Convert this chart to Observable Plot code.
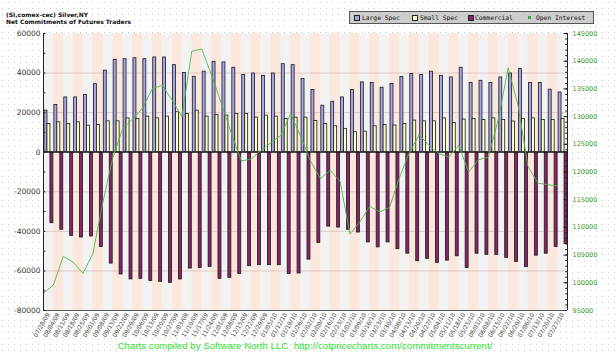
<!DOCTYPE html>
<html><head><meta charset="utf-8">
<script src="https://cdn.jsdelivr.net/npm/d3@7"></script>
<script src="https://cdn.jsdelivr.net/npm/@observablehq/plot@0.6"></script>
<style>
html,body{margin:0;padding:0;background:#fff;}
#wrap{position:relative;width:616px;height:354px;overflow:hidden;
 background-image:url("data:image/svg+xml;utf8,<svg xmlns='http://www.w3.org/2000/svg' width='6' height='6'><rect x='2' y='2' width='1' height='1' fill='%23c8c8c8'/></svg>");}
#chart{position:absolute;left:0;top:0;}
.title{position:absolute;left:6px;font:bold 6px "DejaVu Sans",sans-serif;color:#111;white-space:nowrap;line-height:7px;}
#legend{position:absolute;left:349px;top:11px;width:243px;height:11px;border:1px solid #555;background:#cdcdcd;
 font:6.3px "DejaVu Sans Mono",monospace;color:#111;}
#legend span{position:absolute;top:2px;white-space:nowrap;line-height:7px;}
#legend i{position:absolute;top:3px;width:4px;height:4px;border:1px solid #222;}
#footer{position:absolute;left:0;width:610px;top:340px;text-align:center;font:9.7px "Liberation Sans",Arial,sans-serif;color:#2ee02e;white-space:nowrap;}
</style></head>
<body>
<div id="wrap">
 <div id="chart"></div>
 <div class="title" style="top:11px">(SI,comex-cec) Silver,NY</div>
 <div class="title" style="top:18px">Net Commitments of Futures Traders</div>
 <div id="legend">
  <i style="left:4px;background:#a6a6e6"></i><span style="left:12px">Large Spec</span>
  <i style="left:62px;background:#ffffc8"></i><span style="left:70px">Small Spec</span>
  <i style="left:118px;background:#8a2468"></i><span style="left:125px">Commercial</span>
  <i style="left:178px;top:4px;width:1px;height:1px;border:1px solid #3aaa3a;background:#3aaa3a"></i><span style="left:186px">Open Interest</span>
 </div>
 <div id="footer">Charts compiled by Software North LLC&nbsp; http://cotpricecharts.com/commitmentscurrent/</div>
</div>
<script>
const weeks = ["07/28/09","08/04/09","08/11/09","08/18/09","08/25/09","09/01/09","09/08/09","09/15/09","09/22/09","09/29/09",
 "10/06/09","10/13/09","10/20/09","10/27/09","11/03/09","11/10/09","11/17/09","11/24/09","12/01/09","12/08/09",
 "12/15/09","12/22/09","12/29/09","01/05/10","01/12/10","01/19/10","01/26/10","02/02/10","02/09/10","02/16/10",
 "02/23/10","03/02/10","03/09/10","03/16/10","03/23/10","03/30/10","04/06/10","04/13/10","04/20/10","04/27/10",
 "05/04/10","05/11/10","05/18/10","05/25/10","06/01/10","06/08/10","06/15/10","06/22/10","06/29/10","07/06/10",
 "07/13/10","07/20/10","07/27/10"];
const largeSpec = [21000,23900,27700,27700,28900,34400,41200,46700,47000,47500,
 47000,47900,47900,44000,40000,38100,40700,45700,45400,42700,
 39000,39800,38600,39800,44500,44000,37000,31400,23500,25500,
 27700,31400,35300,35000,32600,34500,38000,39500,39100,40700,
 38600,37800,42700,35000,36100,35000,37800,39800,42000,35000,
 35000,31600,30200];
const smallSpec = [14300,15100,14300,15100,13400,13800,15600,15600,17100,16800,
 18000,17100,18000,20200,19300,21000,18000,18800,18500,19300,
 19300,17500,18500,18000,16800,17500,17500,15800,14300,13100,
 11800,10100,10400,13100,13800,13500,14300,16000,15600,15600,
 17100,14800,16500,16800,16300,17100,16300,15500,16800,17100,
 16300,16300,16800];
const commercial = [-35900,-39200,-42300,-43100,-42600,-47900,-56300,-61800,-64300,-64000,
 -65100,-65500,-66000,-64300,-58800,-58500,-58000,-64000,-63500,-61500,
 -57600,-57100,-57100,-57100,-61500,-61300,-54300,-45900,-37600,-38100,
 -39200,-40600,-45600,-48100,-45600,-49000,-51300,-55100,-53900,-55900,
 -54800,-52600,-58500,-51300,-51900,-51900,-53400,-55400,-58100,-52300,
 -51300,-47900,-46400];
const openInterest = [98100,99600,104800,103700,101700,105300,114500,122500,127800,129500,
 131500,135000,135700,133000,130000,141800,142200,137500,132300,127000,
 122000,122300,123900,125300,126600,130500,126500,122000,118800,120300,
 118300,108800,111000,113800,112800,113600,119000,123500,126700,124800,
 123300,122700,124800,120000,122200,122700,129500,138800,132000,121000,
 118000,117700,117500];
const leftTicks = [-80000,-60000,-40000,-20000,0,20000,40000,60000];
const rightTicks = [95000,100000,105000,110000,115000,120000,125000,130000,135000,140000,145000];

const yMin = -80000, yMax = 60000, oiMin = 95000, oiMax = 145000;
const oiToY = v => yMin + (v - oiMin) * (yMax - yMin) / (oiMax - oiMin);
const yToOi = v => oiMin + (v - yMin) * (oiMax - oiMin) / (yMax - yMin);

const rows = weeks.map((w, i) => ({i, week: w, ls: largeSpec[i], ss: smallSpec[i], cm: commercial[i], oi: oiToY(openInterest[i])}));
const stripes = rows.filter(d => d.i % 2 === 1);
const n = weeks.length;
const leftMinor = d3.range(yMin, yMax + 1, 10000);
const rightMinor = d3.range(oiMin, oiMax + 1, 1000).map(oiToY);

const chart = Plot.plot({
  width: 616, height: 354,
  marginLeft: 43, marginRight: 49, marginTop: 33, marginBottom: 44,
  x: {domain: [0, n], axis: null},
  y: {domain: [yMin, yMax], axis: null},
  style: {fontFamily: '"DejaVu Sans", sans-serif', background: "transparent", overflow: "visible"},
  marks: [
    Plot.frame({fill: "#f2f2f2", stroke: null}),
    Plot.rect(stripes, {x1: d => d.i, x2: d => d.i + 1, y1: yMin, y2: yMax, fill: "#fce7dc"}),
    Plot.gridY({ticks: leftTicks.filter(t => t > yMin && t < yMax && t !== 0), stroke: "#c8a8a8", strokeOpacity: 0.5}),
    Plot.rect(rows, {x1: d => d.i + 0.1, x2: d => d.i + 0.4, y1: 0, y2: "ls", fill: "#a6a6e6", stroke: "#1a1a1a", strokeWidth: 0.8}),
    Plot.rect(rows, {x1: d => d.i + 0.4, x2: d => d.i + 0.7, y1: 0, y2: "ss", fill: "#ffffc8", stroke: "#1a1a1a", strokeWidth: 0.8}),
    Plot.rect(rows, {x1: d => d.i + 0.7, x2: d => d.i + 1.0, y1: 0, y2: "cm", fill: "#8a2468", stroke: "#1a1a1a", strokeWidth: 0.8}),
    Plot.ruleY([0], {stroke: "#111", strokeWidth: 1}),
    Plot.line(rows, {x: "i", y: "oi", stroke: "#4cb84c", strokeWidth: 0.9}),
    Plot.ruleX([0], {stroke: "#222"}),
    Plot.ruleX([n], {stroke: "#222"}),
    Plot.ruleY([yMin], {stroke: "#555"}),
    Plot.ruleY(leftMinor, {y: d => d, x1: 0, x2: 0.25, stroke: "#222"}),
    Plot.ruleY(rightMinor, {y: d => d, x1: n - 0.18, x2: n, stroke: "#222"}),
    Plot.ruleY(rightTicks.map(oiToY), {y: d => d, x1: n - 0.35, x2: n, stroke: "#222"}),
    Plot.axisY({ticks: leftTicks, tickFormat: d => String(d), tickSize: 0, tickPadding: 3, fontSize: 7.5, color: "#333", label: null}),
    Plot.axisY({anchor: "right", ticks: rightTicks.map(oiToY), tickFormat: v => String(Math.round(yToOi(v))), tickSize: 0, tickPadding: 5, fontSize: 6.5, color: "#2f9a2f", label: null}),
    Plot.axisX({ticks: rows.map(d => d.i + 0.5), tickFormat: v => weeks[Math.floor(v)], tickRotate: -60, tickSize: 0, tickPadding: 3, fontSize: 6, color: "#444", label: null})
  ]
});
document.getElementById("chart").appendChild(chart);
</script>
</body></html>
